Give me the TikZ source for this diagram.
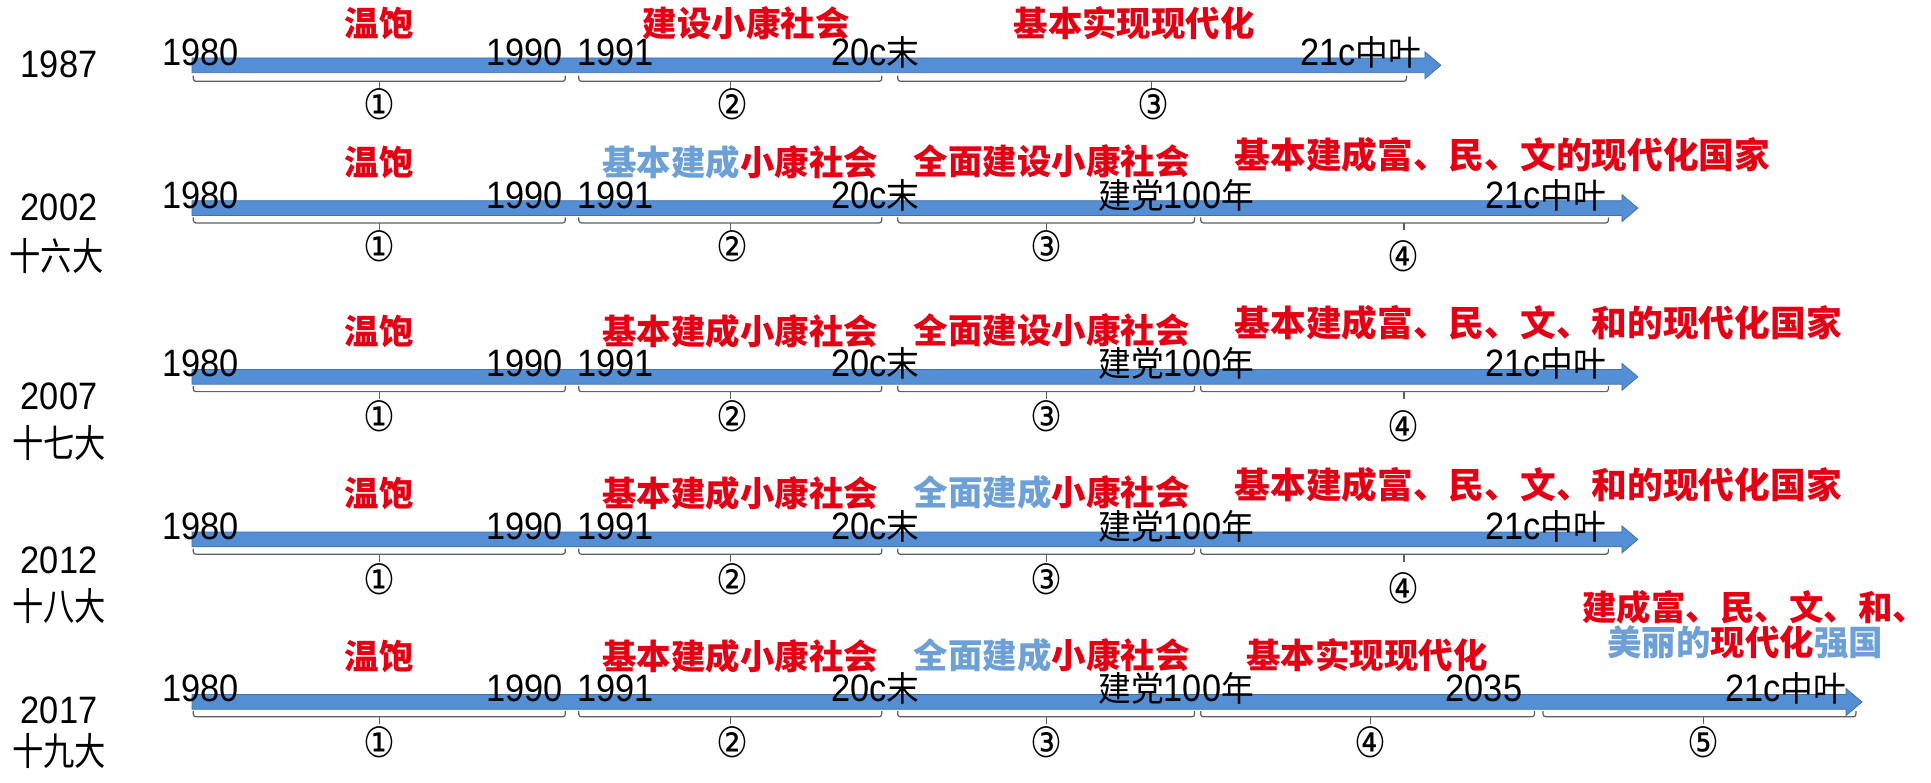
\documentclass[tikz,border=0pt]{standalone}
\usepackage{fontspec}
\newfontfamily\blk[FakeStretch=0.9]{Liberation Sans}
\newfontfamily\blkcjk[FakeStretch=0.95]{Noto Sans CJK SC}
\newfontfamily\yrcjk[FakeStretch=0.82]{Noto Sans CJK SC}
\newfontfamily\cjk{Noto Sans CJK SC}
\newfontfamily\circf[FakeStretch=0.85]{DejaVu Sans}
\definecolor{barblue}{RGB}{84,142,212}
\definecolor{bardark}{RGB}{65,113,170}
\definecolor{bracegray}{RGB}{95,95,95}
\definecolor{myred}{RGB}{228,0,20}
\definecolor{myblue}{RGB}{108,160,214}
\newcommand\bc[1]{{\blkcjk\fontsize{28}{30}\selectfont #1}}
\newcommand\yc[1]{{\yrcjk #1}}
\newcommand\tlbar[2]{%
  \draw[barstyle] (156,#1-6) -- (#2-13,#1-6) -- (#2-13,#1-11) -- (#2,#1)
     -- (#2-13,#1+11) -- (#2-13,#1+6) -- (156,#1+6) -- cycle;}
\newcommand\tlbrace[4]{%
  \draw[bracestyle] (#2,#1-4.5) -- (#2,#1) -- (#3,#1) -- (#3,#1-4.5);
  \draw[bracestyle] (#4,#1) -- (#4,#1+6);}
\tikzset{
  barstyle/.style={fill=barblue, draw=bardark, line width=0.6},
  bracestyle/.style={draw=bracegray, line width=1, rounded corners=2},
  lab/.style={inner sep=0, anchor=base, font=\fontsize{31}{33}\selectfont\blk},
  yearlab/.style={inner sep=0, font=\fontsize{31}{33}\selectfont\blk},
  redlab/.style={inner sep=0, text=myred, font=\fontsize{28}{30}\selectfont\cjk\bfseries},
  longlab/.style={inner sep=0, text=myred, font=\fontsize{29}{31}\selectfont\cjk\bfseries},
  circ/.style={inner sep=0, font=\fontsize{34}{34}\selectfont\circf},
}
\begin{document}
\begin{tikzpicture}[x=1pt,y=-1pt]
\useasboundingbox[fill=white] (0,0) rectangle (1568,635);

% ---------- bars ----------
\tlbar{53}{1170}
\tlbar{169}{1330}
\tlbar{306}{1330}
\tlbar{438}{1330}
\tlbar{570}{1512}

% ---------- row 1: 1987 ----------
\node[yearlab] (y1) at (48,52) {1987};
\node[lab] (a1) at (163,53) {1980};
\node[lab] (b1) at (426,53) {1990};
\node[lab] (c1) at (500,53) {1991};
\node[lab] (d1) at (711,53) {20c\bc{末}};
\node[lab] (e1) at (1105,53) {21c\bc{中叶}};
\node[redlab] (r1a) at (308,19) {温饱};
\node[redlab] (r1b) at (606,19) {建设小康社会};
\node[redlab] (r1c) at (921,19) {基本实现现代化};
\tlbrace{66}{157}{459}{308}
\tlbrace{66}{470}{716}{593}
\tlbrace{66}{729}{1142}{935}
\node[circ] (n1a) at (308,85) {①};
\node[circ] (n1b) at (595,85) {②};
\node[circ] (n1c) at (937,85) {③};

% ---------- row 2: 2002 ----------
\node[yearlab] (y2) at (48,168) {2002};
\node[yearlab] (z2) at (46,208) {\yc{十六大}};
\node[lab] (a2) at (163,169) {1980};
\node[lab] (b2) at (426,169) {1990};
\node[lab] (c2) at (500,169) {1991};
\node[lab] (d2) at (711,169) {20c\bc{末}};
\node[lab] (f2) at (955,169) {\bc{建党}100\bc{年}};
\node[lab] (e2) at (1255,169) {21c\bc{中叶}};
\node[redlab] (r2a) at (308,132) {温饱};
\node[redlab] (r2b) at (601,132) {\textcolor{myblue}{基本建成}小康社会};
\node[redlab] (r2c) at (854,131) {全面建设小康社会};
\node[longlab] (r2d) at (1220,126) {基本建成富、民、文的现代化国家};
\tlbrace{181}{157}{459}{308}
\tlbrace{181}{470}{716}{593}
\tlbrace{181}{729}{970}{850}
\tlbrace{181}{975}{1306}{1140}
\node[circ] (n2a) at (308,200) {①};
\node[circ] (n2b) at (595,200) {②};
\node[circ] (n2c) at (850,200) {③};
\node[circ] (n2d) at (1140,208) {④};

% ---------- row 3: 2007 ----------
\node[yearlab] (y3) at (48,322) {2007};
\node[yearlab] (z3) at (48,360) {\yc{十七大}};
\node[lab] (a3) at (163,306) {1980};
\node[lab] (b3) at (426,306) {1990};
\node[lab] (c3) at (500,306) {1991};
\node[lab] (d3) at (711,306) {20c\bc{末}};
\node[lab] (f3) at (955,306) {\bc{建党}100\bc{年}};
\node[lab] (e3) at (1255,306) {21c\bc{中叶}};
\node[redlab] (r3a) at (308,269) {温饱};
\node[redlab] (r3b) at (601,269) {基本建成小康社会};
\node[redlab] (r3c) at (854,268) {全面建设小康社会};
\node[longlab] (r3d) at (1249,262) {基本建成富、民、文、和的现代化国家};
\tlbrace{318}{157}{459}{308}
\tlbrace{318}{470}{716}{593}
\tlbrace{318}{729}{970}{850}
\tlbrace{318}{975}{1306}{1140}
\node[circ] (n3a) at (308,338) {①};
\node[circ] (n3b) at (595,338) {②};
\node[circ] (n3c) at (850,338) {③};
\node[circ] (n3d) at (1140,346) {④};

% ---------- row 4: 2012 ----------
\node[yearlab] (y4) at (48,455) {2012};
\node[yearlab] (z4) at (48,492) {\yc{十八大}};
\node[lab] (a4) at (163,438) {1980};
\node[lab] (b4) at (426,438) {1990};
\node[lab] (c4) at (500,438) {1991};
\node[lab] (d4) at (711,438) {20c\bc{末}};
\node[lab] (f4) at (955,438) {\bc{建党}100\bc{年}};
\node[lab] (e4) at (1255,438) {21c\bc{中叶}};
\node[redlab] (r4a) at (308,401) {温饱};
\node[redlab] (r4b) at (601,401) {基本建成小康社会};
\node[redlab] (r4c) at (854,400) {\textcolor{myblue}{全面建成}小康社会};
\node[longlab] (r4d) at (1249,394) {基本建成富、民、文、和的现代化国家};
\tlbrace{450}{157}{459}{308}
\tlbrace{450}{470}{716}{593}
\tlbrace{450}{729}{970}{850}
\tlbrace{450}{975}{1306}{1140}
\node[circ] (n4a) at (308,470) {①};
\node[circ] (n4b) at (595,470) {②};
\node[circ] (n4c) at (850,470) {③};
\node[circ] (n4d) at (1140,478) {④};

% ---------- row 5: 2017 ----------
\node[yearlab] (y5) at (48,577) {2017};
\node[yearlab] (z5) at (48,610) {\yc{十九大}};
\node[lab] (a5) at (163,570) {1980};
\node[lab] (b5) at (426,570) {1990};
\node[lab] (c5) at (500,570) {1991};
\node[lab] (d5) at (711,570) {20c\bc{末}};
\node[lab] (f5) at (955,570) {\bc{建党}100\bc{年}};
\node[lab] (g5) at (1205,570) {2035};
\node[lab] (e5) at (1450,570) {21c\bc{中叶}};
\node[redlab] (r5a) at (308,533) {温饱};
\node[redlab] (r5b) at (601,533) {基本建成小康社会};
\node[redlab] (r5c) at (854,532) {\textcolor{myblue}{全面建成}小康社会};
\node[redlab] (r5d) at (1110,532) {基本实现现代化};
\node[redlab] (r5e) at (1425,493) {建成富、民、文、和、};
\node[redlab] (r5f) at (1417,522) {\textcolor{myblue}{美丽的}现代化\textcolor{myblue}{强国}};
\tlbrace{582}{157}{459}{308}
\tlbrace{582}{470}{716}{593}
\tlbrace{582}{729}{970}{850}
\tlbrace{582}{975}{1246}{1113}
\tlbrace{582}{1253}{1507}{1383}
\node[circ] (n5a) at (308,603) {①};
\node[circ] (n5b) at (595,603) {②};
\node[circ] (n5c) at (850,603) {③};
\node[circ] (n5d) at (1113,603) {④};
\node[circ] (n5e) at (1383,603) {⑤};
\end{tikzpicture}
\end{document}
